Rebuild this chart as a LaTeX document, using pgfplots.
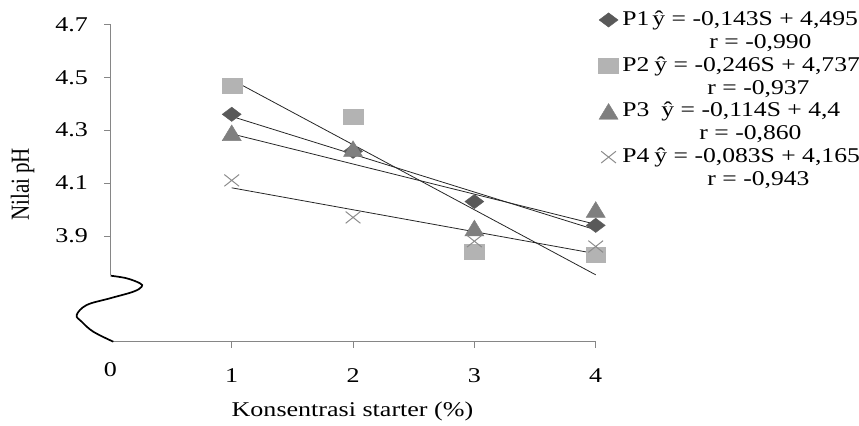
\documentclass[border=0pt]{standalone}
\usepackage{fontspec}
\setmainfont{Liberation Serif}
\usepackage{graphicx}
\usepackage{pgfplots}
\pgfplotsset{compat=1.18}
\newcommand{\sx}[1]{\scalebox{1.24}[1]{#1}}
\newcommand{\lx}[1]{\scalebox{1.22}[1]{#1}}
\definecolor{axgray}{HTML}{868686}
\definecolor{pone}{HTML}{595959}
\definecolor{ptwo}{HTML}{B3B3B3}
\definecolor{pthree}{HTML}{7F7F7F}
\definecolor{pfour}{HTML}{8C8C8C}
\pgfplotsset{onemark/.style={legend image code/.code={\draw[##1,/tikz/only marks] plot coordinates {(0bp,0bp)};}}}
\begin{document}
\begin{tikzpicture}[x=1bp,y=1bp]
\useasboundingbox (-110.4,-83.3) rectangle (748.6,341.7);
\begin{axis}[
  at={(0,0)}, anchor=south west,
  scale only axis, width=485.3bp, height=317.3bp,
  xmin=0, xmax=4, ymin=3.5, ymax=4.7,
  axis x line*=bottom, axis y line*=left,
  axis line style={draw=none},
  tick align=outside, major tick length=6bp,
  tick style={axgray, line width=0.8bp},
  xtick={1,2,3,4}, xticklabels={\sx{1},\sx{2},\sx{3},\sx{4}},
  extra x ticks={0}, extra x tick labels={\sx{0}},
  extra x tick style={major tick length=0pt},
  ytick={3.9,4.1,4.3,4.5,4.7},
  yticklabels={\sx{3.9},\sx{4.1},\sx{4.3},\sx{4.5},\sx{4.7}},
  ticklabel style={font=\fontsize{21bp}{24bp}\selectfont},
  xticklabel style={yshift=-17bp},
  yticklabel style={xshift=-13bp},
  xlabel={\sx{Konsentrasi starter (\%)}},
  ylabel={\scalebox{1}[1.24]{Nilai pH}},
  label style={font=\fontsize{21bp}{24bp}\selectfont},
  xlabel style={at={(axis description cs:0.4987,-0.219)}, anchor=center},
  ylabel style={at={(axis description cs:-0.1807,0.496)}, anchor=center},
  clip=false,
  legend style={at={(axis description cs:1.006,1.05)}, anchor=north west,
    draw=none, fill=none, inner sep=0pt, outer sep=0pt,
    row sep=0pt, column sep=3bp,
    font=\fontsize{21bp}{24bp}\selectfont,
    nodes={text height=16bp, text depth=5bp, inner sep=0.93bp}},
  legend cell align=left,
]
\addplot[only marks, onemark, mark=diamond*, mark size=7.15bp, color=pone,
  mark options={xscale=1.77, fill=pone, draw=pone}]
  coordinates {(1,4.36) (2,4.22) (3,4.03) (4,3.94)};
\addlegendentry{\makebox[30bp][l]{\lx{P1}}\lx{ŷ = -0,143S + 4,495}}
\addlegendimage{empty legend}
\addlegendentry{\hspace{87bp}\lx{r = -0,990}}
\addplot[only marks, onemark, mark=square*, mark size=7.5bp, color=ptwo,
  mark options={xscale=1.33, fill=ptwo, draw=ptwo}]
  coordinates {(1,4.47) (2,4.35) (3,3.84) (4,3.83)};
\addlegendentry{\makebox[32bp][l]{\lx{P2}}\lx{ŷ = -0,246S + 4,737}}
\addlegendimage{empty legend}
\addlegendentry{\hspace{85bp}\lx{r = -0,937}}
\addplot[only marks, onemark, mark=triangle*, mark size=10.5bp, color=pthree,
  mark options={xscale=1.05, yshift=-2.6bp, fill=pthree, draw=pthree}]
  coordinates {(1,4.29) (2,4.23) (3,3.93) (4,4.00)};
\addlegendentry{\makebox[39bp][l]{\lx{P3}}\lx{ŷ = -0,114S + 4,4}}
\addlegendimage{empty legend}
\addlegendentry{\hspace{77bp}\lx{r = -0,860}}
\addplot[only marks, onemark, mark=x, mark size=8.3bp, color=pfour,
  mark options={xscale=1.26, line width=1bp, draw=pfour}]
  coordinates {(1,4.11) (2,3.97) (3,3.88) (4,3.86)};
\addlegendentry{\makebox[32bp][l]{\lx{P4}}\lx{ŷ = -0,083S + 4,165}}
\addlegendimage{empty legend}
\addlegendentry{\hspace{85bp}\lx{r = -0,943}}
% trend lines
\addplot[black!85, line width=0.8bp, forget plot] coordinates {(1,4.352) (4,3.923)};
\addplot[black!85, line width=0.8bp, forget plot] coordinates {(1,4.491) (4,3.753)};
\addplot[black!85, line width=0.8bp, forget plot] coordinates {(1,4.286) (4,3.944)};
\addplot[black!85, line width=0.8bp, forget plot] coordinates {(1,4.082) (4,3.833)};
% axis lines
\draw[axgray, line width=0.9bp] (axis cs:0,4.7) -- (axis cs:0,3.752);
\draw[axgray, line width=0.9bp] (axis cs:0.022,3.5) -- (axis cs:4,3.5);
\end{axis}
% axis break squiggle
\draw[black, line width=1.7bp] plot[smooth, tension=0.6] coordinates {(0.3,66) (16.3,63.4) (29.6,58.4) (31.3,55) (22.9,50) (-0.4,43.4) (-23.7,36.7) (-33.7,26.7) (-28.7,20) (-17.1,10) (2.9,0)};
\end{tikzpicture}
\end{document}
